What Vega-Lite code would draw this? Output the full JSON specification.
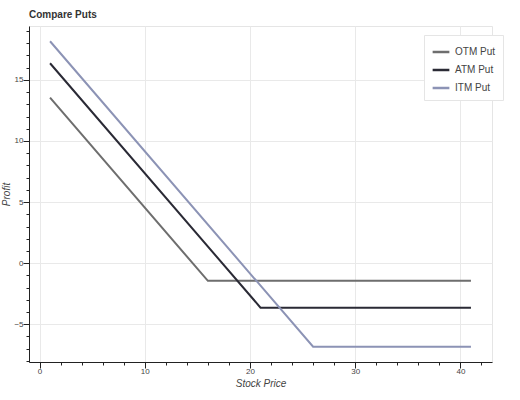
{
  "$schema": "https://vega.github.io/schema/vega-lite/v6.json",
  "width": 463,
  "height": 336,
  "autosize": "none",
  "padding": {"left": 29, "top": 26, "right": 28, "bottom": 38},
  "title": {
    "text": "Compare Puts",
    "anchor": "start",
    "frame": "group",
    "font": "Liberation Sans",
    "fontSize": 10,
    "fontWeight": "bold",
    "color": "#333333",
    "offset": 6
  },
  "data": {
    "values": [
      {"series": "OTM Put", "price": 1, "profit": 13.55},
      {"series": "OTM Put", "price": 16, "profit": -1.45},
      {"series": "OTM Put", "price": 41, "profit": -1.45},
      {"series": "ATM Put", "price": 1, "profit": 16.36},
      {"series": "ATM Put", "price": 21, "profit": -3.64},
      {"series": "ATM Put", "price": 41, "profit": -3.64},
      {"series": "ITM Put", "price": 1, "profit": 18.16},
      {"series": "ITM Put", "price": 26, "profit": -6.84},
      {"series": "ITM Put", "price": 41, "profit": -6.84}
    ]
  },
  "mark": {"type": "line", "strokeWidth": 2},
  "encoding": {
    "x": {
      "field": "price",
      "type": "quantitative",
      "scale": {"domain": [-1, 43], "nice": false, "zero": false},
      "axis": {
        "title": "Stock Price",
        "titleFontStyle": "italic",
        "titleFontWeight": "normal",
        "titleFontSize": 10,
        "titleColor": "#444444",
        "titleY": 16,
        "values": [0, 2, 4, 6, 8, 10, 12, 14, 16, 18, 20, 22, 24, 26, 28, 30, 32, 34, 36, 38, 40, 42],
        "labelExpr": "datum.value % 10 == 0 ? datum.label : ''",
        "labelFontSize": 8,
        "labelColor": "#444444",
        "labelPadding": -1,
        "tickSize": {"condition": {"test": "datum.value % 10 == 0", "value": 6}, "value": 3},
        "tickColor": "#222222",
        "domainColor": "#222222",
        "gridColor": "#e9e9e9",
        "gridOpacity": {"condition": {"test": "datum.value % 10 == 0", "value": 1}, "value": 0}
      }
    },
    "y": {
      "field": "profit",
      "type": "quantitative",
      "scale": {"domain": [-8.09, 19.41], "nice": false, "zero": false},
      "axis": {
        "title": "Profit",
        "titleFontStyle": "italic",
        "titleFontWeight": "normal",
        "titleFontSize": 10,
        "titleColor": "#444444",
        "titleX": -18,
        "titleY": 168,
        "titleAlign": "center",
        "titleBaseline": "bottom",
        "values": [-8, -7, -6, -5, -4, -3, -2, -1, 0, 1, 2, 3, 4, 5, 6, 7, 8, 9, 10, 11, 12, 13, 14, 15, 16, 17, 18, 19],
        "labelExpr": "datum.value % 5 == 0 ? datum.label : ''",
        "labelFontSize": 8,
        "labelColor": "#444444",
        "labelPadding": 0,
        "tickSize": {"condition": {"test": "datum.value % 5 == 0", "value": 6}, "value": 3},
        "tickColor": "#222222",
        "domainColor": "#222222",
        "gridColor": "#e9e9e9",
        "gridOpacity": {"condition": {"test": "datum.value % 5 == 0", "value": 1}, "value": 0}
      }
    },
    "color": {
      "field": "series",
      "type": "nominal",
      "sort": ["OTM Put", "ATM Put", "ITM Put"],
      "scale": {
        "domain": ["OTM Put", "ATM Put", "ITM Put"],
        "range": ["#6e6e6e", "#2a2a35", "#8c93b5"]
      },
      "legend": {
        "title": null,
        "orient": "none",
        "legendX": 395,
        "legendY": 9,
        "padding": 7,
        "fillColor": "white",
        "strokeColor": "#e5e5e5",
        "symbolType": "stroke",
        "symbolSize": 280,
        "symbolStrokeWidth": 2.5,
        "labelFontSize": 10,
        "labelColor": "#444444",
        "rowPadding": 3
      }
    }
  },
  "config": {
    "font": "Liberation Sans",
    "view": {"stroke": "#e5e5e5"}
  }
}
